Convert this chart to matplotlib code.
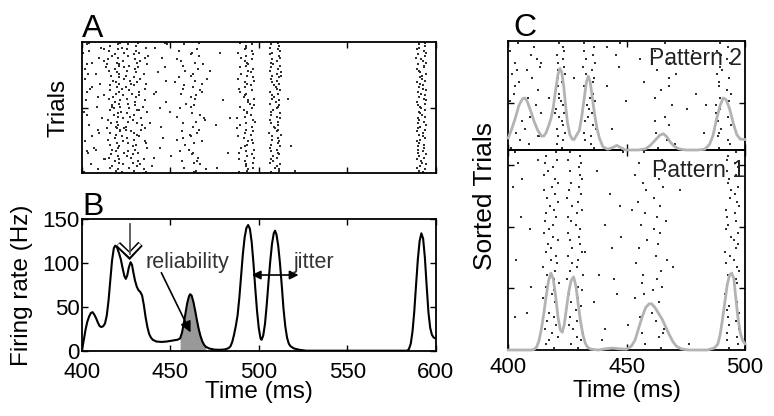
#
# raster / PSTH figure: A raster, B firing rate, C sorted raster
#
import numpy as np
import matplotlib
matplotlib.use('Agg')
import matplotlib.pyplot as plt

plt.rcParams['font.family'] = ['Liberation Sans', 'DejaVu Sans']

#
# data
#
# pattern of each trial (order as in panel A, top to bottom)
trial_pattern = [2, 1, 1, 2, 1, 1, 2, 1, 1, 2, 1, 2, 1, 2, 1, 2, 1, 1, 1, 2,
                 1, 1, 2, 1, 1, 2, 1, 1, 2, 1, 2, 1, 2, 1, 1, 2, 1, 1, 1, 2,
                 1, 1, 2, 1, 1, 1, 2, 1, 1, 1, 2, 1, 2, 2, 1, 1, 1, 2, 1, 1,
                 2, 1, 1, 1, 2, 1, 1, 2, 1, 1, 1, 2, 1, 1, 2, 1, 1, 2, 1, 2]

# spike times (ms) of each trial
spike_times = [
    [404.2, 421.4, 431.8, 466.0, 489.6, 510.9, 593.9, 447.0],
    [420.1, 426.0, 457.5, 496.3, 507.0, 590.4, 448.3, 403.0],
    [416.0, 430.4, 492.9, 511.6, 594.0],
    [410.7, 422.9, 436.3, 492.9, 506.4, 590.6, 441.5],
    [420.4, 425.3, 464.8, 492.4, 510.8, 589.7, 412.5],
    [415.4, 430.6, 455.1, 495.9, 512.1, 593.6, 404.2],
    [400.8, 423.5, 432.1, 462.0, 488.3, 507.6, 594.8, 478.2],
    [418.9, 429.7, 461.9, 497.0, 506.3, 590.3],
    [416.7, 426.2, 466.0, 492.6, 511.2, 594.1, 437.6],
    [409.6, 420.5, 435.9, 489.9, 511.8, 589.2, 445.3],
    [414.9, 430.1, 453.6, 496.0, 507.4, 591.9],
    [412.3, 423.2, 433.0, 492.2, 510.4, 593.0, 455.8],
    [419.8, 431.0, 463.8, 493.1, 506.8, 594.9, 405.9],
    [402.9, 421.1, 436.8, 468.4, 493.8, 508.1, 590.1, 414.0],
    [421.0, 426.4, 457.0, 492.7, 511.9, 593.5],
    [413.4, 423.7, 431.5, 489.5, 507.2, 593.3, 446.9],
    [418.6, 429.9, 465.4, 496.9, 510.7, 589.6, 401.8],
    [415.2, 425.6, 458.2, 494.1, 506.2, 590.9, 472.6],
    [419.7, 430.8, 495.7, 512.7, 591.2, 443.1],
    [407.9, 421.0, 435.3, 463.0, 490.1, 510.6, 594.4, 403.5],
    [416.3, 425.0, 461.5, 493.5, 507.7, 592.2, 512.6],
    [420.9, 429.4, 454.6, 496.6, 511.3, 591.5],
    [401.6, 423.9, 432.7, 488.0, 506.7, 592.3, 471.0],
    [417.6, 426.9, 463.9, 497.4, 510.1, 594.3, 447.4],
    [419.3, 431.2, 492.0, 507.5, 589.5, 452.4],
    [410.0, 420.8, 436.1, 467.7, 493.4, 511.7, 591.0, 427.9],
    [416.0, 429.2, 457.8, 495.8, 508.6, 592.9],
    [420.0, 425.1, 462.8, 492.3, 509.9, 590.8, 405.5],
    [404.7, 422.8, 435.6, 488.9, 510.3, 592.8, 457.3],
    [415.6, 426.6, 466.7, 496.4, 512.0, 594.5],
    [403.0, 420.9, 432.0, 467.9, 489.2, 506.5, 590.2, 441.9],
    [419.0, 428.5, 455.9, 493.0, 510.8, 591.6, 440.8],
    [412.4, 423.4, 432.4, 464.6, 492.4, 507.5, 593.8],
    [417.3, 430.5, 461.6, 491.8, 508.4, 590.7, 409.1],
    [415.1, 425.4, 464.1, 497.2, 507.3, 593.4, 516.3],
    [402.5, 421.3, 435.9, 494.1, 511.5, 594.9, 479.5],
    [418.7, 429.8, 493.9, 510.0, 589.8, 447.6],
    [421.2, 426.1, 458.7, 495.3, 506.1, 593.9],
    [416.8, 430.2, 463.1, 497.1, 511.6, 590.2],
    [408.4, 421.6, 434.6, 461.9, 489.4, 510.7, 591.3, 417.2],
    [417.9, 426.8, 455.3, 496.1, 510.2, 592.0, 443.9],
    [415.8, 431.1, 491.6, 508.3, 594.2, 432.5],
    [400.9, 422.2, 436.5, 493.4, 506.9, 590.6, 449.9],
    [420.3, 425.2, 462.2, 493.6, 511.9, 591.1],
    [418.2, 429.6, 467.0, 495.5, 507.1, 592.5, 403.1],
    [420.6, 427.1, 454.0, 492.1, 510.5, 594.0],
    [411.5, 423.1, 433.1, 469.0, 487.9, 512.0, 589.9, 483.6],
    [414.8, 429.0, 496.5, 506.6, 590.5, 469.4],
    [419.6, 425.9, 464.4, 497.6, 511.1, 593.7],
    [416.5, 431.4, 456.9, 492.8, 507.0, 590.0, 438.4],
    [404.1, 420.3, 434.2, 489.5, 511.0, 594.6, 475.6],
    [419.1, 425.0, 462.9, 496.2, 508.7, 591.0, 444.7],
    [413.9, 423.6, 435.4, 487.6, 509.4, 590.1, 419.9],
    [409.0, 421.5, 433.6, 466.2, 492.9, 510.9, 593.9, 425.0],
    [421.3, 428.0, 456.3, 496.8, 510.3, 589.4],
    [416.1, 429.5, 465.1, 492.5, 506.0, 593.2, 409.6],
    [419.4, 431.3, 461.3, 495.6, 512.4, 590.9],
    [405.6, 422.5, 432.4, 488.4, 507.4, 592.7, 461.8],
    [418.4, 425.7, 457.3, 491.7, 510.9, 594.3, 446.1],
    [414.6, 429.3, 496.1, 507.6, 591.3, 453.7],
    [401.9, 423.0, 435.7, 468.1, 494.2, 511.3, 589.3],
    [419.9, 426.3, 463.6, 496.7, 511.0, 590.4, 436.2],
    [415.7, 430.7, 458.5, 493.3, 507.2, 593.6],
    [420.7, 428.6, 492.3, 511.8, 590.1, 518.4],
    [407.0, 420.6, 436.9, 490.0, 506.5, 593.5, 444.0],
    [417.1, 430.0, 460.7, 497.3, 510.1, 589.9, 407.7],
    [419.5, 426.0, 455.7, 492.9, 506.7, 593.1, 402.9],
    [403.3, 423.8, 431.9, 462.6, 489.0, 510.8, 590.3, 482.7],
    [416.4, 429.1, 462.4, 496.0, 511.5, 594.6],
    [420.2, 425.5, 493.2, 507.8, 590.6, 450.6],
    [415.3, 427.5, 465.7, 497.5, 510.6, 593.3, 441.0],
    [412.9, 421.2, 435.0, 488.6, 506.8, 589.6, 412.7],
    [418.5, 431.5, 456.4, 492.2, 507.9, 591.9, 465.2],
    [421.1, 428.9, 463.5, 496.5, 506.4, 592.6],
    [404.9, 423.3, 432.6, 466.9, 493.0, 511.9, 594.7],
    [417.0, 430.9, 492.6, 510.4, 591.1, 439.4],
    [415.9, 426.7, 457.9, 496.9, 509.2, 589.8, 476.4],
    [408.9, 420.4, 435.1, 493.7, 511.4, 593.8, 470.3],
    [419.2, 429.4, 464.7, 493.4, 511.2, 590.5, 520.5],
    [401.3, 422.7, 436.2, 463.3, 489.1, 506.9, 592.8],
]

# firing rate (panel B)
rate_t = [400, 401, 402, 403, 404, 405, 406, 407, 408, 409, 410, 411, 412, 413, 414,
          415, 416, 417, 418, 418.8, 419.8, 421, 422, 423, 424, 424.8, 425.6, 426.5,
          427.5, 428.3, 429, 430, 431, 432, 433, 434, 435, 436, 437, 438, 439, 440,
          442, 445, 448, 451, 454, 455.5, 456.5, 457.5, 458.5, 459.5, 460.5, 461.2,
          462, 463, 464, 465, 466, 467, 468, 469, 470, 472, 475, 478, 481, 483, 484,
          485, 486, 487, 488, 489, 490, 491, 492, 493, 494, 495, 496, 497, 498, 499,
          500, 501, 501.6, 502.5, 503.5, 504.5, 505.5, 506.5, 507.5, 508.5, 509.2,
          510, 511, 512, 513, 514, 515, 516, 517, 518, 520, 523, 527, 584, 585, 586,
          587, 588, 589, 590, 591, 592, 593, 594, 595, 596, 597, 598, 599, 600]
rate_hz = [1, 12, 24, 33, 39, 43, 44, 41, 37, 32, 28, 27, 28, 31, 40,
           57, 80, 103, 117, 120, 118, 111, 104, 94, 85, 82, 86, 95,
           101, 98, 90, 80, 73, 69, 67, 63, 52, 38, 27, 19, 15, 12.5,
           10.5, 10, 10.5, 11.5, 12.5, 14, 20, 30, 42, 54, 62, 64.5,
           63, 56, 46, 35, 25, 17, 11, 7, 4.5, 2.5, 1.2, 1, 1.5, 3, 5,
           10, 18, 28, 40, 60, 85, 110, 129, 140, 143.5, 139, 124, 100, 72, 46,
           26, 14, 12.5, 17, 30, 52, 78, 102, 122, 134, 137,
           133, 120, 100, 75, 48, 28, 15, 8, 5, 2.5, 1, 0, 0, 2, 8,
           22, 45, 75, 104, 125, 134, 128, 106, 74, 44, 26, 18, 15, 14]
reliab_win = (455.5, 470)

# pattern rates in panel C (in trial rows)
p1_t = [400, 410, 411, 412, 413, 414, 415, 416, 417, 418, 419, 420, 421, 422,
        422.8, 423.6, 424.5, 425.5, 426.5, 427.6, 428.6, 429.5, 430.5, 431.5, 432.5,
        433.5, 435, 438, 441, 444, 447, 450, 452, 453.5, 455, 456.5, 458, 459.5,
        460.6, 462, 463.5, 465, 466.5, 468, 469.5, 471, 473, 476, 480, 484, 487,
        488.5, 489.5, 490.5, 491.5, 492.5, 493.5, 494.4, 495.3, 496.2, 497, 498, 499, 500]
p1_h = [0, 0, 0.2, 0.8, 2.5, 5.5, 9.5, 14, 18, 20, 18.5, 14, 8.5, 5.2,
        4.6, 6.5, 10.5, 15, 18, 19, 16.5, 12, 7.5, 4, 1.8,
        0.7, 0.2, 0, 0.3, 0.5, 0.3, 0.2, 1, 2.5, 5.5, 8.5, 11, 12,
        12, 11, 9.5, 8, 6, 4, 2.2, 1, 0.3, 0, 0, 0, 0.5,
        1.5, 4, 8, 12.5, 17, 19.5, 20, 18.5, 13, 8.5, 4.5, 2.5, 1.6]
p2_t = [400, 401.5, 403, 404.5, 406, 407, 408, 409.5, 411, 412.5, 414, 415, 416,
        417, 418, 419, 420, 421, 421.8, 422.6, 423.4, 424.2, 425, 426, 427, 427.8,
        428.8, 430, 431, 432, 433, 433.8, 434.6, 435.5, 436.5, 437.5, 438.5, 440,
        442, 444, 445.8, 447.5, 449.5, 455, 458, 460, 462, 464, 465.5, 467, 468.5,
        470, 472, 475, 480, 483, 485, 486.5, 488, 489.5, 490.8, 492, 493.5, 495,
        496.5, 498, 500]
p2_h = [3.1, 5.5, 8.3, 11.5, 13.2, 13.4, 12.5, 10, 7.2, 5, 3.6, 3.6, 4.5,
        6.2, 8, 11, 15.5, 19.5, 21, 20, 16.5, 11.5, 7, 4, 2.8, 2.7,
        3.8, 5, 8.5, 13, 17.5, 19, 17.5, 13.5, 9, 5.5, 3, 0.8,
        0.2, 0.6, 1.2, 0.6, 0, 0, 0.3, 1.2, 2.5, 3.8, 4.2, 3.4, 2,
        1, 0.3, 0, 0, 0.2, 1.4, 3.8, 8, 11.5, 13.4, 13, 10.6, 7,
        4, 2.8, 2.7]

#
# helpers
#
W, H = 774, 416
def box(l, t, r, b):
  # pixel box -> figure fraction [x0, y0, w, h]
  return [l/W, 1-b/H, (r-l)/W, (b-t)/H]

def style(ax):
  for s in ax.spines.values():
    s.set_linewidth(1.3)
  ax.tick_params(direction='in', top=True, right=True, length=4, width=1,
                 labelsize=16, pad=2)

dot = dict(s=3.6, marker='s', color='#303030', linewidths=0)
ntr = len(spike_times)

fig = plt.figure(figsize=(7.74, 4.16), dpi=100)

#
# A: raster
#
axA = fig.add_axes(box(82, 42, 435.5, 173.3))
for i, st in enumerate(spike_times):
  axA.scatter(st, np.full(len(st), ntr - i - 0.5), **dot)
axA.set_xlim(400, 600)
axA.set_ylim(0, ntr)
axA.set_xticks(np.arange(400, 601, 50))
axA.set_yticks([ntr/2])
axA.set_xticklabels([])
axA.set_yticklabels([])
style(axA)
axA.set_ylabel('Trials', fontsize=17.5)
axA.yaxis.set_label_coords(-0.034, 0.5)

#
# B: firing rate
#
axB = fig.add_axes(box(82, 219.3, 435.5, 350.7))
t = np.array(rate_t)
r = np.array(rate_hz)
m = (t >= reliab_win[0]) & (t <= reliab_win[1])
axB.fill_between(t[m], r[m], 0, color='#999999', lw=0)
axB.plot(t, r, color='k', lw=1.5)
axB.set_xlim(400, 600)
axB.set_ylim(0, 150)
axB.set_xticks(np.arange(400, 601, 50))
axB.set_yticks([0, 50, 100, 150])
style(axB)
axB.tick_params(axis='x', pad=8)
axB.tick_params(axis='y', pad=1.5)
axB.set_ylabel('Firing rate (Hz)', fontsize=17.5)
axB.yaxis.set_label_coords(-0.138, 0.5)
axB.set_xlabel('Time (ms)', fontsize=17.5)
axB.xaxis.set_label_coords(0.5, -0.232)
# hollow chevron arrow
axB.plot([420.3, 426.9, 433.1], [121.5, 108.5, 122], color='k', lw=4.5,
         solid_joinstyle='miter', solid_capstyle='butt', zorder=4)
axB.plot([420.5, 426.9, 432.9], [121.2, 109.2, 121.7], color='w', lw=2,
         solid_joinstyle='miter', solid_capstyle='butt', zorder=5)
axB.plot([426.9, 426.9], [145, 110], color='#555555', lw=1.3, zorder=6)
# reliability
axB.text(435.7, 94, 'reliability', fontsize=15.5, color='#333333', va='baseline')
axB.annotate('', xy=(462.1, 18), xytext=(444.2, 91.9),
             arrowprops=dict(arrowstyle='-|>', color='k', lw=1.2, mutation_scale=16))
# jitter
axB.text(519.7, 94, 'jitter', fontsize=15.5, color='#333333', va='baseline')
axB.annotate('', xy=(522.5, 86.4), xytext=(496.1, 86.4),
             arrowprops=dict(arrowstyle='<|-|>', color='k', lw=1.2, mutation_scale=13,
                             shrinkA=0, shrinkB=0))

fig.text(82/W, 1-37/H, 'A', fontsize=23, va='baseline')
fig.text(82/W, 1-215/H, 'B', fontsize=23, va='baseline')
fig.text(513/W, 1-35.5/H, 'C', fontsize=23, va='baseline')

#
# C: sorted raster, pattern 1 below, pattern 2 above
#
p1 = [st for st, p in zip(spike_times, trial_pattern) if p == 1]
p2 = [st for st, p in zip(spike_times, trial_pattern) if p == 2]
n1 = len(p1)

axC1 = fig.add_axes(box(508.3, 150, 745, 350))
for i, st in enumerate(p1):
  st = [v for v in st if v <= 500]
  axC1.scatter(st, np.full(len(st), n1 - i - 0.5), **dot)
axC1.plot(p1_t, p1_h, color='#b3b3b3', lw=2, zorder=3, clip_on=False)
axC1.set_xlim(400, 500)
axC1.set_ylim(0, n1)
axC1.set_xticks([400, 450, 500])
axC1.set_yticks([16, 32, 48])
axC1.set_yticklabels([])
style(axC1)
axC1.tick_params(axis='x', pad=5)
axC1.set_xlabel('Time (ms)', fontsize=17.5)
axC1.xaxis.set_label_coords(0.5, -0.15)
axC1.text(0.998, 0.865, 'Pattern 1', transform=axC1.transAxes, ha='right',
          va='baseline', fontsize=16.5, color='#222222')

axC2 = fig.add_axes(box(508.3, 41.3, 745, 150))
axC2.patch.set_alpha(0)
for i, st in enumerate(p2):
  st = [v for v in st if v <= 500]
  axC2.scatter(st, np.full(len(st), ntr - i - 0.5), **dot)
axC2.plot(p2_t, np.array(p2_h) + n1, color='#b3b3b3', lw=2, zorder=3, clip_on=False)
axC2.set_xlim(400, 500)
axC2.set_ylim(n1, ntr)
axC2.set_xticks([400, 450, 500])
axC2.set_yticks([64])
axC2.set_xticklabels([])
axC2.set_yticklabels([])
style(axC2)
axC2.text(0.985, 0.78, 'Pattern 2', transform=axC2.transAxes, ha='right',
          va='baseline', fontsize=16.5, color='#222222')

fig.text(497/W, 1-196/H, 'Sorted Trials', rotation=90, ha='right', va='center',
         fontsize=19)

fig.savefig('out.png', dpi=100)
